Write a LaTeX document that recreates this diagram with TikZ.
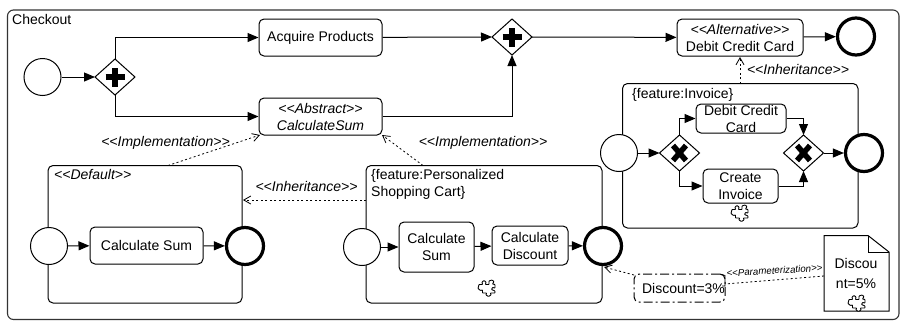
\documentclass[tikz,border=0pt]{standalone}
\usepackage{fontspec}
\setmainfont{Liberation Sans}
\usetikzlibrary{arrows.meta}
\newcommand{\lo}{<{}<}
\newcommand{\rc}{>{}>}
\tikzset{
 x=1pt,y=-1pt,
 container/.style={line width=1pt,draw=black,rounded corners=5pt},
 flow/.style={line width=1pt,draw=black,-{Triangle[length=11pt,width=9pt]}},
 assoc/.style={line width=0.8pt,draw=black,dash pattern=on 2pt off 2.5pt,-{Straight Barb[length=7pt,width=8pt]}},
 task/.style={draw=black,line width=1pt,rounded corners=5pt,fill=white,align=center,inner sep=0pt,font=\fontsize{14}{17}\selectfont},
 startev/.style={circle,draw=black,line width=1pt,fill=white,minimum size=37pt,inner sep=0pt},
 endev/.style={circle,draw=black,line width=3.2pt,fill=white,minimum size=37pt,inner sep=0pt},
 lab/.style={font=\fontsize{14}{17}\selectfont,inner sep=0pt,align=left},
 ilab/.style={font=\fontsize{14}{17}\selectfont\itshape,inner sep=0pt},
 gate/.style={draw=black,line width=1pt,fill=white},
}
\newcommand{\gw}[3]{% name, x, y
 \coordinate (#1) at (#2,#3);
 \coordinate (#1W) at (#2-20,#3);\coordinate (#1E) at (#2+20,#3);
 \coordinate (#1N) at (#2,#3-18);\coordinate (#1S) at (#2,#3+18);
 \draw[gate] (#1W)--(#1N)--(#1E)--(#1S)--cycle;}
\newcommand{\plusmark}[1]{\draw[line width=6.5pt,black] ([xshift=-9.5pt]#1)--([xshift=9.5pt]#1) ([yshift=-9.5pt]#1)--([yshift=9.5pt]#1);}
\newcommand{\xmark}[1]{\draw[line width=5.5pt,black] ([shift={(-6.5pt,-7.5pt)}]#1)--([shift={(6.5pt,7.5pt)}]#1) ([shift={(-6.5pt,7.5pt)}]#1)--([shift={(6.5pt,-7.5pt)}]#1);}
\newcommand{\puzzle}[2]{\begin{scope}[shift={(#1,#2)},line width=0.9pt]
 \draw[fill=white,rounded corners=0.5pt] (-8,-3.5)--(-4.5,-3.5)--(-5,-6)--(-3,-7.5)--(-1,-6)--(-1.5,-3.5)--(2,-3.5)--(2,-7)--(5,-8)--(7,-6.5)--(5.5,-4)--(8,-3.5)--(8,0)--(5.5,-0.5)--(4.5,1.5)--(8,3)--(8,5)--(3.5,5)--(4,7)--(1.5,8.5)--(-1,7)--(-0.5,5)--(-4.5,5)--(-4.5,2)--(-6.5,2.5)--(-9,0.5)--cycle;
 \end{scope}}
\begin{document}
\begin{tikzpicture}
\useasboundingbox (0,0) rectangle (902,322);
\draw[line width=1.1pt,draw=black!80,rounded corners=6pt] (7.5,10) rectangle (899,319.5);
\node[lab,anchor=west] (checkout) at (12,19.5) {Checkout};

% containers
\draw[container] (48,165.5) rectangle (242,303);
\draw[container] (366,165.5) rectangle (602,303);
\draw[container] (622.5,83.5) rectangle (858,228);

\node[ilab,anchor=west] (deflab) at (54,174.5) {\lo Default\rc};
\node[lab,anchor=north west] (perslab) at (371,169) {\{feature:Personalized\\Shopping Cart\}};
\node[lab,anchor=west] (invlab) at (632,94.5) {\{feature:Invoice\}};

% top level
\node[startev] (s0) at (42.5,77) {};
\gw{g1}{115}{77}
\plusmark{g1}
\node[task,minimum width=123pt,minimum height=37pt] (acq) at (320.5,37.5) {Acquire Products};
\node[task,minimum width=123pt,minimum height=37pt] (abs) at (320.5,116.5) {\itshape \lo Abstract\rc\\\itshape CalculateSum};
\gw{g2}{512}{37}
\plusmark{g2}
\node[task,minimum width=126pt,minimum height=37pt] (alt) at (740,37.5) {\itshape \lo Alternative\rc\\Debit Credit Card};
\node[endev] (e0) at (856,36.5) {};

\draw[flow] (s0) -- (g1W);
\draw[flow] (g1N) |- (acq);
\draw[flow] (g1S) |- (abs);
\draw[flow] (acq) -- (g2W);
\draw[flow] (abs) -| (g2S);
\draw[flow] (g2E) -- (alt);
\draw[flow] (alt) -- (e0);

% default sub-process
\node[startev] (s1) at (49,246) {};
\node[task,minimum width=113pt,minimum height=37pt] (cs) at (146.5,245.5) {Calculate Sum};
\node[endev] (e1) at (245,246) {};
\draw[flow] (s1) -- (cs);
\draw[flow] (cs) -- (e1);

% personalized sub-process
\node[startev] (s2) at (362,247) {};
\node[task,minimum width=75pt,minimum height=50pt] (cs2) at (436.5,247) {Calculate\\Sum};
\node[task,minimum width=76pt,minimum height=39pt] (cd) at (530,245.5) {Calculate\\Discount};
\node[endev] (e2) at (603,246) {};
\draw[flow] (s2) -- (cs2);
\draw[flow] (cs2) -- (cd);
\draw[flow] (cd) -- (e2);
\puzzle{487}{288}

% invoice sub-process
\node[startev] (s3) at (619,153) {};
\gw{g3}{679.5}{153}
\xmark{g3}
\gw{g4}{803.5}{153}
\xmark{g4}
\node[task,minimum width=90pt,minimum height=29pt] (dc) at (741,118.5) {Debit Credit\\Card};
\node[task,minimum width=75pt,minimum height=34pt] (ci) at (740.5,186) {Create\\Invoice};
\node[endev] (e3) at (864,153) {};
\draw[flow] (s3) -- (g3W);
\draw[flow] (g3N) |- (dc);
\draw[flow] (g3S) |- (ci);
\draw[flow] (dc) -| (g4N);
\draw[flow] (ci) -| (g4S);
\draw[flow] (g4E) -- (e3);
\puzzle{740}{213}

% data
\node[task,dash pattern=on 9pt off 3pt on 2pt off 3pt,minimum width=91pt,minimum height=28pt] (d3) at (679.5,288) {\hspace*{8pt}Discount=3\%};
\coordinate (docW) at (824,276);
\draw[line width=1pt,draw=black,fill=white] (824,235.5)--(868,235.5)--(889,252)--(889,311)--(824,311)--cycle;
\draw[line width=0.8pt,draw=black] (868,235.5)--(868,252)--(889,252);
\node[lab,align=center,font=\fontsize{14}{20}\selectfont] (d5) at (856,273) {Discou\\nt=5\%};
\puzzle{857}{303}

% associations
\coordinate (a1) at (168,165.5);\coordinate (a1e) at (260,135);
\coordinate (a2) at (423,165.5);\coordinate (a2e) at (382,135);
\coordinate (a3) at (366,200);\coordinate (a3e) at (243,200);
\coordinate (a4) at (740,83.5);\coordinate (a4e) at (740,57);
\coordinate (a5) at (634,275);\coordinate (a5e) at (604,267);
\coordinate (a6e) at (725,284);
\coordinate (b1) at (722,274.5);\coordinate (b2) at (725,275.5);\coordinate (b3) at (722,286);
\draw[assoc] (a1) -- (a1e);
\draw[assoc] (a2) -- (a2e);
\draw[assoc] (a3) -- (a3e);
\draw[assoc] (a4) -- (a4e);
\draw[assoc] (a5) -- (a5e);
\draw[line width=0.8pt,dash pattern=on 2pt off 2.5pt] (docW) -- (a6e);
\draw[line width=0.7pt] (b1)--(b2)--(725,286)--(b3);

\node[ilab] (l1) at (165.5,142.5) {\lo Implementation\rc};
\node[ilab] (l2) at (483,142.5) {\lo Implementation\rc};
\node[ilab] (l3) at (306.5,186) {\lo Inheritance\rc};
\node[ilab] (l4) at (798,69.5) {\lo Inheritance\rc};
\node[font=\fontsize{9.7}{12}\selectfont\itshape,inner sep=0pt,rotate=3.5] (l5) at (774.5,270.5) {\lo Parameterization\rc};
\end{tikzpicture}
\end{document}
